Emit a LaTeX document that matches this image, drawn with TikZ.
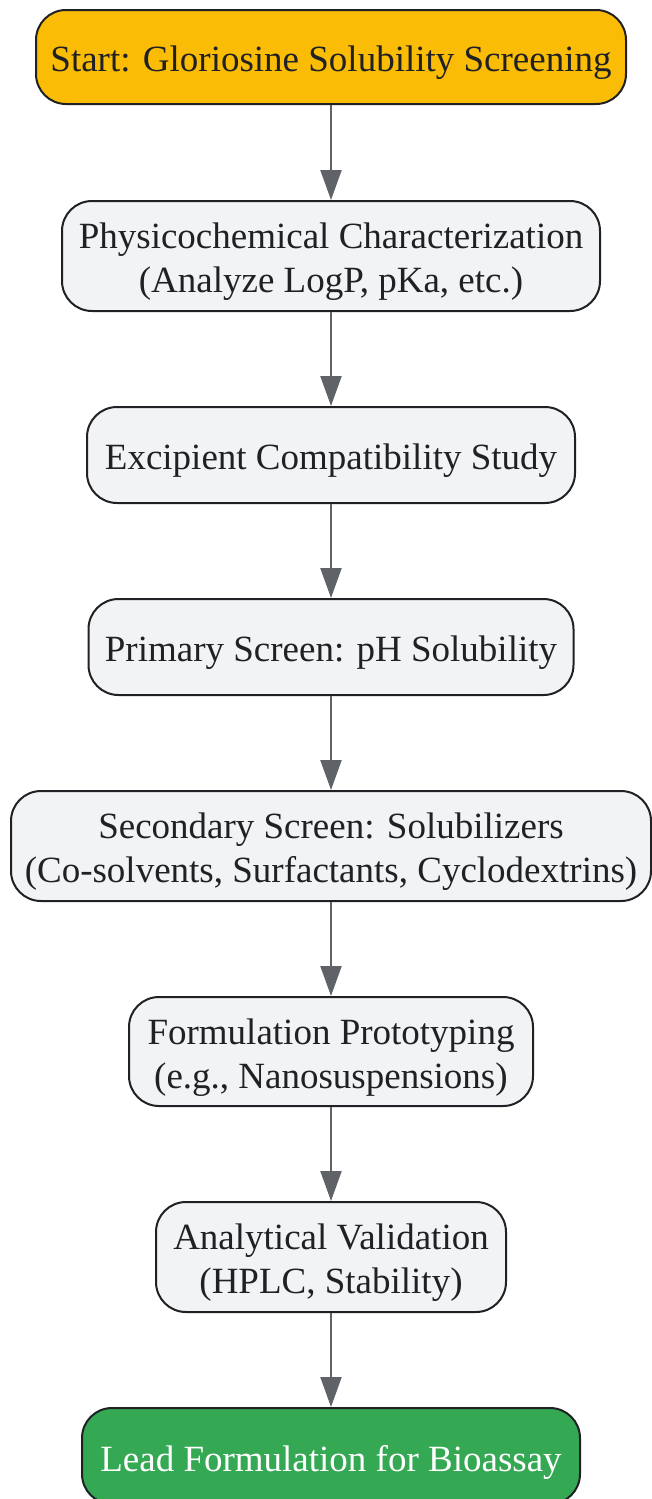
\documentclass[tikz,border=0pt]{standalone}
\usepackage{fontspec}
\setmainfont{Liberation Serif}
\usetikzlibrary{arrows.meta}
\definecolor{startc}{HTML}{FBBC05}
\definecolor{endc}{HTML}{34A853}
\definecolor{boxc}{HTML}{F1F3F4}
\definecolor{linec}{HTML}{202124}
\definecolor{arrc}{HTML}{5F6368}
\tikzset{
  box/.style={draw=linec, line width=2pt, rounded corners=30pt, fill=boxc, inner sep=0pt},
  startbox/.style={box, fill=startc},
  endbox/.style={box, fill=endc},
  txt/.style={text=linec, align=center, inner sep=0pt, font=\fontsize{37}{44}\selectfont},
  wtxt/.style={txt, text=white},
  conn/.style={draw=arrc, line width=2.2pt, -{Triangle[length=30pt,width=21pt]}},
}
\begin{document}
\begin{tikzpicture}[x=1pt,y=-1pt]
\useasboundingbox (0,0) rectangle (651,1499);
\node[startbox, minimum width=590pt, minimum height=94pt] (n1) at (331,57) {};
\node[box, minimum width=538pt, minimum height=110pt] (n2) at (331,256) {};
\node[box, minimum width=488pt, minimum height=96pt] (n3) at (331,455) {};
\node[box, minimum width=485pt, minimum height=96pt] (n4) at (331,647) {};
\node[box, minimum width=640pt, minimum height=110pt] (n5) at (331,846) {};
\node[box, minimum width=404pt, minimum height=109pt] (n6) at (331,1051.5) {};
\node[box, minimum width=350pt, minimum height=110pt] (n7) at (331,1257) {};
\node[endbox, minimum width=498pt, minimum height=96pt] (n8) at (331,1456) {};
\node[txt] (t1) at ([yshift=-6pt]n1.center) {Start: Gloriosine Solubility Screening};
\node[txt] (t2) at ([yshift=-6pt]n2.center) {Physicochemical Characterization\\(Analyze LogP, pKa, etc.)};
\node[txt] (t3) at ([yshift=-6pt]n3.center) {Excipient Compatibility Study};
\node[txt] (t4) at ([yshift=-6pt]n4.center) {Primary Screen: pH Solubility};
\node[txt] (t5) at ([yshift=-6pt]n5.center) {Secondary Screen: Solubilizers\\(Co-solvents, Surfactants, Cyclodextrins)};
\node[txt] (t6) at ([yshift=-6pt]n6.center) {Formulation Prototyping\\(e.g., Nanosuspensions)};
\node[txt] (t7) at ([yshift=-6pt]n7.center) {Analytical Validation\\(HPLC, Stability)};
\node[wtxt] (t8) at ([yshift=-6pt]n8.center) {Lead Formulation for Bioassay};
\foreach \a/\b in {n1/n2,n2/n3,n3/n4,n4/n5,n5/n6,n6/n7,n7/n8}
  \draw[conn] (\a) -- (\b);
\end{tikzpicture}
\end{document}
